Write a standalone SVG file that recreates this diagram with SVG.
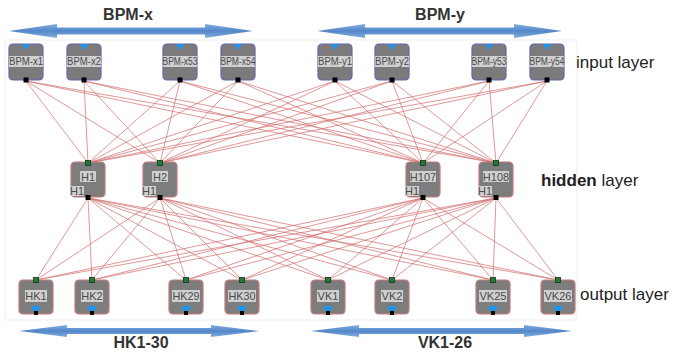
<svg xmlns="http://www.w3.org/2000/svg" width="674" height="353" viewBox="0 0 674 353">
<defs>
<linearGradient id="ag" x1="0" y1="0" x2="0" y2="1">
<stop offset="0" stop-color="#82aee0"/>
<stop offset="0.5" stop-color="#5487c8"/>
<stop offset="1" stop-color="#82aee0"/>
</linearGradient>
</defs>
<style>
.bg{fill:#ffffff;stroke:#efefef;stroke-width:1}
.arr{fill:url(#ag);stroke:none}
.big{font-family:"Liberation Sans",Arial,sans-serif;font-size:16px;font-weight:bold;fill:#333;text-anchor:middle}
.lay{font-family:"Liberation Sans",Arial,sans-serif;font-size:17px;fill:#222}
.inbox{fill:#7b7b7b;stroke:#6464b0;stroke-width:1.2}
.hbox{fill:#7d7d7d;stroke:#c87878;stroke-width:1.2}
.lbl{fill:#cfcfcf}
.nt{font-family:"Liberation Sans",Arial,sans-serif;font-size:10px;fill:#4a4a4a;text-anchor:middle}
.ht{font-family:"Liberation Sans",Arial,sans-serif;font-size:11px;fill:#4a4a4a;text-anchor:middle}
.tri{fill:#1e96f0}
.port{fill:#000}
.gport{fill:#1f7a3c;stroke:#0b3a18;stroke-width:0.8}
.ln{stroke:#d27070;stroke-width:0.8;fill:none;opacity:0.9}
</style>
<rect class="bg" x="5" y="40" width="572" height="280"/>
<g id="arrows">
<path class="arr" d="M9,31 L57,24 L57,27.5 L205,27.5 L205,24 L253,31 L205,38 L205,34.5 L57,34.5 L57,38 Z"/>
<path class="arr" d="M317,31 L365,24 L365,27.5 L514,27.5 L514,24 L562,31 L514,38 L514,34.5 L365,34.5 L365,38 Z"/>
<path class="arr" d="M19,331 L67,325 L67,328 L211,328 L211,325 L259,331 L211,337 L211,334 L67,334 L67,337 Z"/>
<path class="arr" d="M311,331 L359,325 L359,328 L524,328 L524,325 L572,331 L524,337 L524,334 L359,334 L359,337 Z"/>
</g>
<g id="labels">
<text class="big" x="128" y="20">BPM-x</text>
<text class="big" x="440" y="20">BPM-y</text>
<text class="big" x="141" y="348">HK1-30</text>
<text class="big" x="445" y="348">VK1-26</text>
<text class="lay" x="576" y="68">input layer</text>
<text class="lay" x="541" y="186"><tspan font-weight="bold">hidden</tspan> layer</text>
<text class="lay" x="580" y="300">output layer</text>
</g>
<g id="connectors">
<line class="ln" x1="26" y1="81" x2="88" y2="163"/><line class="ln" x1="26" y1="81" x2="160" y2="163"/><line class="ln" x1="26" y1="81" x2="423" y2="163"/><line class="ln" x1="26" y1="81" x2="496" y2="163"/>
<line class="ln" x1="84" y1="81" x2="88" y2="163"/><line class="ln" x1="84" y1="81" x2="160" y2="163"/><line class="ln" x1="84" y1="81" x2="423" y2="163"/><line class="ln" x1="84" y1="81" x2="496" y2="163"/>
<line class="ln" x1="180" y1="81" x2="88" y2="163"/><line class="ln" x1="180" y1="81" x2="160" y2="163"/><line class="ln" x1="180" y1="81" x2="423" y2="163"/><line class="ln" x1="180" y1="81" x2="496" y2="163"/>
<line class="ln" x1="238" y1="81" x2="88" y2="163"/><line class="ln" x1="238" y1="81" x2="160" y2="163"/><line class="ln" x1="238" y1="81" x2="423" y2="163"/><line class="ln" x1="238" y1="81" x2="496" y2="163"/>
<line class="ln" x1="335" y1="81" x2="88" y2="163"/><line class="ln" x1="335" y1="81" x2="160" y2="163"/><line class="ln" x1="335" y1="81" x2="423" y2="163"/><line class="ln" x1="335" y1="81" x2="496" y2="163"/>
<line class="ln" x1="392" y1="81" x2="88" y2="163"/><line class="ln" x1="392" y1="81" x2="160" y2="163"/><line class="ln" x1="392" y1="81" x2="423" y2="163"/><line class="ln" x1="392" y1="81" x2="496" y2="163"/>
<line class="ln" x1="489" y1="81" x2="88" y2="163"/><line class="ln" x1="489" y1="81" x2="160" y2="163"/><line class="ln" x1="489" y1="81" x2="423" y2="163"/><line class="ln" x1="489" y1="81" x2="496" y2="163"/>
<line class="ln" x1="547" y1="81" x2="88" y2="163"/><line class="ln" x1="547" y1="81" x2="160" y2="163"/><line class="ln" x1="547" y1="81" x2="423" y2="163"/><line class="ln" x1="547" y1="81" x2="496" y2="163"/>
<line class="ln" x1="88" y1="198" x2="36" y2="280"/><line class="ln" x1="88" y1="198" x2="92" y2="280"/><line class="ln" x1="88" y1="198" x2="186" y2="280"/><line class="ln" x1="88" y1="198" x2="242" y2="280"/><line class="ln" x1="88" y1="198" x2="328" y2="280"/><line class="ln" x1="88" y1="198" x2="392" y2="280"/><line class="ln" x1="88" y1="198" x2="493" y2="280"/><line class="ln" x1="88" y1="198" x2="558" y2="280"/>
<line class="ln" x1="160" y1="198" x2="36" y2="280"/><line class="ln" x1="160" y1="198" x2="92" y2="280"/><line class="ln" x1="160" y1="198" x2="186" y2="280"/><line class="ln" x1="160" y1="198" x2="242" y2="280"/><line class="ln" x1="160" y1="198" x2="328" y2="280"/><line class="ln" x1="160" y1="198" x2="392" y2="280"/><line class="ln" x1="160" y1="198" x2="493" y2="280"/><line class="ln" x1="160" y1="198" x2="558" y2="280"/>
<line class="ln" x1="423" y1="198" x2="36" y2="280"/><line class="ln" x1="423" y1="198" x2="92" y2="280"/><line class="ln" x1="423" y1="198" x2="186" y2="280"/><line class="ln" x1="423" y1="198" x2="242" y2="280"/><line class="ln" x1="423" y1="198" x2="328" y2="280"/><line class="ln" x1="423" y1="198" x2="392" y2="280"/><line class="ln" x1="423" y1="198" x2="493" y2="280"/><line class="ln" x1="423" y1="198" x2="558" y2="280"/>
<line class="ln" x1="496" y1="198" x2="36" y2="280"/><line class="ln" x1="496" y1="198" x2="92" y2="280"/><line class="ln" x1="496" y1="198" x2="186" y2="280"/><line class="ln" x1="496" y1="198" x2="242" y2="280"/><line class="ln" x1="496" y1="198" x2="328" y2="280"/><line class="ln" x1="496" y1="198" x2="392" y2="280"/><line class="ln" x1="496" y1="198" x2="493" y2="280"/><line class="ln" x1="496" y1="198" x2="558" y2="280"/>
</g>
<g id="in-x1"><rect class="inbox" x="9" y="44" width="34" height="36" rx="4"/><path class="tri" d="M22,44 L30,44 L26,50 Z"/><rect class="lbl" x="9" y="56" width="34" height="11"/><text class="nt" x="26" y="65.3" textLength="34" lengthAdjust="spacingAndGlyphs">BPM-x1</text><rect class="port" x="23.5" y="77.5" width="5" height="5"/></g>
<g id="in-x2"><rect class="inbox" x="67" y="44" width="34" height="36" rx="4"/><path class="tri" d="M80,44 L88,44 L84,50 Z"/><rect class="lbl" x="67" y="56" width="34" height="11"/><text class="nt" x="84" y="65.3" textLength="34" lengthAdjust="spacingAndGlyphs">BPM-x2</text><rect class="port" x="81.5" y="77.5" width="5" height="5"/></g>
<g id="in-x53"><rect class="inbox" x="163" y="44" width="34" height="36" rx="4"/><path class="tri" d="M176,44 L184,44 L180,50 Z"/><rect class="lbl" x="163" y="56" width="34" height="11"/><text class="nt" x="180" y="65.3" textLength="35" lengthAdjust="spacingAndGlyphs">BPM-x53</text><rect class="port" x="177.5" y="77.5" width="5" height="5"/></g>
<g id="in-x54"><rect class="inbox" x="221" y="44" width="34" height="36" rx="4"/><path class="tri" d="M234,44 L242,44 L238,50 Z"/><rect class="lbl" x="221" y="56" width="34" height="11"/><text class="nt" x="238" y="65.3" textLength="35" lengthAdjust="spacingAndGlyphs">BPM-x54</text><rect class="port" x="235.5" y="77.5" width="5" height="5"/></g>
<g id="in-y1"><rect class="inbox" x="318" y="44" width="34" height="36" rx="4"/><path class="tri" d="M331,44 L339,44 L335,50 Z"/><rect class="lbl" x="318" y="56" width="34" height="11"/><text class="nt" x="335" y="65.3" textLength="34" lengthAdjust="spacingAndGlyphs">BPM-y1</text><rect class="port" x="332.5" y="77.5" width="5" height="5"/></g>
<g id="in-y2"><rect class="inbox" x="375" y="44" width="34" height="36" rx="4"/><path class="tri" d="M388,44 L396,44 L392,50 Z"/><rect class="lbl" x="375" y="56" width="34" height="11"/><text class="nt" x="392" y="65.3" textLength="34" lengthAdjust="spacingAndGlyphs">BPM-y2</text><rect class="port" x="389.5" y="77.5" width="5" height="5"/></g>
<g id="in-y53"><rect class="inbox" x="472" y="44" width="34" height="36" rx="4"/><path class="tri" d="M485,44 L493,44 L489,50 Z"/><rect class="lbl" x="472" y="56" width="34" height="11"/><text class="nt" x="489" y="65.3" textLength="35" lengthAdjust="spacingAndGlyphs">BPM-y53</text><rect class="port" x="486.5" y="77.5" width="5" height="5"/></g>
<g id="in-y54"><rect class="inbox" x="530" y="44" width="34" height="36" rx="4"/><path class="tri" d="M543,44 L551,44 L547,50 Z"/><rect class="lbl" x="530" y="56" width="34" height="11"/><text class="nt" x="547" y="65.3" textLength="35" lengthAdjust="spacingAndGlyphs">BPM-y54</text><rect class="port" x="544.5" y="77.5" width="5" height="5"/></g>
<g id="h1"><rect class="hbox" x="71" y="162" width="34" height="35" rx="4"/><rect class="lbl" x="80" y="171" width="16" height="11"/><text class="ht" x="88" y="180.5">H1</text><rect class="lbl" x="70" y="186" width="14" height="10"/><text class="ht" x="77" y="194.8">H1</text><rect class="gport" x="85.5" y="160.5" width="5" height="5"/><rect class="port" x="85.5" y="195" width="5" height="5"/></g>
<g id="h2"><rect class="hbox" x="143" y="162" width="34" height="35" rx="4"/><rect class="lbl" x="152" y="171" width="16" height="11"/><text class="ht" x="160" y="180.5">H2</text><rect class="lbl" x="142" y="186" width="14" height="10"/><text class="ht" x="149" y="194.8">H1</text><rect class="gport" x="157.5" y="160.5" width="5" height="5"/><rect class="port" x="157.5" y="195" width="5" height="5"/></g>
<g id="h107"><rect class="hbox" x="406" y="162" width="34" height="35" rx="4"/><rect class="lbl" x="410" y="171" width="26" height="11"/><text class="ht" x="423" y="180.5">H107</text><rect class="lbl" x="405" y="186" width="14" height="10"/><text class="ht" x="412" y="194.8">H1</text><rect class="gport" x="420.5" y="160.5" width="5" height="5"/><rect class="port" x="420.5" y="195" width="5" height="5"/></g>
<g id="h108"><rect class="hbox" x="479" y="162" width="34" height="35" rx="4"/><rect class="lbl" x="483" y="171" width="26" height="11"/><text class="ht" x="496" y="180.5">H108</text><rect class="lbl" x="478" y="186" width="14" height="10"/><text class="ht" x="485" y="194.8">H1</text><rect class="gport" x="493.5" y="160.5" width="5" height="5"/><rect class="port" x="493.5" y="195" width="5" height="5"/></g>
<g id="hk1"><rect class="hbox" x="19" y="280" width="34" height="34" rx="4"/><rect class="lbl" x="25" y="290" width="22" height="12"/><text class="ht" x="36" y="299.8">HK1</text><path class="tri" d="M31,306 L41,306 L38.5,311 L33.5,311 Z"/><rect class="port" x="34" y="311" width="4" height="4"/><rect class="gport" x="33.5" y="277.5" width="5" height="5"/></g>
<g id="hk2"><rect class="hbox" x="75" y="280" width="34" height="34" rx="4"/><rect class="lbl" x="81" y="290" width="22" height="12"/><text class="ht" x="92" y="299.8">HK2</text><path class="tri" d="M87,306 L97,306 L94.5,311 L89.5,311 Z"/><rect class="port" x="90" y="311" width="4" height="4"/><rect class="gport" x="89.5" y="277.5" width="5" height="5"/></g>
<g id="hk29"><rect class="hbox" x="169" y="280" width="34" height="34" rx="4"/><rect class="lbl" x="172" y="290" width="28" height="12"/><text class="ht" x="186" y="299.8" textLength="27" lengthAdjust="spacingAndGlyphs">HK29</text><path class="tri" d="M181,306 L191,306 L188.5,311 L183.5,311 Z"/><rect class="port" x="184" y="311" width="4" height="4"/><rect class="gport" x="183.5" y="277.5" width="5" height="5"/></g>
<g id="hk30"><rect class="hbox" x="225" y="280" width="34" height="34" rx="4"/><rect class="lbl" x="228" y="290" width="28" height="12"/><text class="ht" x="242" y="299.8" textLength="27" lengthAdjust="spacingAndGlyphs">HK30</text><path class="tri" d="M237,306 L247,306 L244.5,311 L239.5,311 Z"/><rect class="port" x="240" y="311" width="4" height="4"/><rect class="gport" x="239.5" y="277.5" width="5" height="5"/></g>
<g id="vk1"><rect class="hbox" x="311" y="280" width="34" height="34" rx="4"/><rect class="lbl" x="317" y="290" width="22" height="12"/><text class="ht" x="328" y="299.8">VK1</text><path class="tri" d="M323,306 L333,306 L330.5,311 L325.5,311 Z"/><rect class="port" x="326" y="311" width="4" height="4"/><rect class="gport" x="325.5" y="277.5" width="5" height="5"/></g>
<g id="vk2"><rect class="hbox" x="375" y="280" width="34" height="34" rx="4"/><rect class="lbl" x="381" y="290" width="22" height="12"/><text class="ht" x="392" y="299.8">VK2</text><path class="tri" d="M387,306 L397,306 L394.5,311 L389.5,311 Z"/><rect class="port" x="390" y="311" width="4" height="4"/><rect class="gport" x="389.5" y="277.5" width="5" height="5"/></g>
<g id="vk25"><rect class="hbox" x="476" y="280" width="34" height="34" rx="4"/><rect class="lbl" x="479" y="290" width="28" height="12"/><text class="ht" x="493" y="299.8" textLength="27" lengthAdjust="spacingAndGlyphs">VK25</text><path class="tri" d="M488,306 L498,306 L495.5,311 L490.5,311 Z"/><rect class="port" x="491" y="311" width="4" height="4"/><rect class="gport" x="490.5" y="277.5" width="5" height="5"/></g>
<g id="vk26"><rect class="hbox" x="541" y="280" width="34" height="34" rx="4"/><rect class="lbl" x="544" y="290" width="28" height="12"/><text class="ht" x="558" y="299.8" textLength="27" lengthAdjust="spacingAndGlyphs">VK26</text><path class="tri" d="M553,306 L563,306 L560.5,311 L555.5,311 Z"/><rect class="port" x="556" y="311" width="4" height="4"/><rect class="gport" x="555.5" y="277.5" width="5" height="5"/></g>
</svg>
